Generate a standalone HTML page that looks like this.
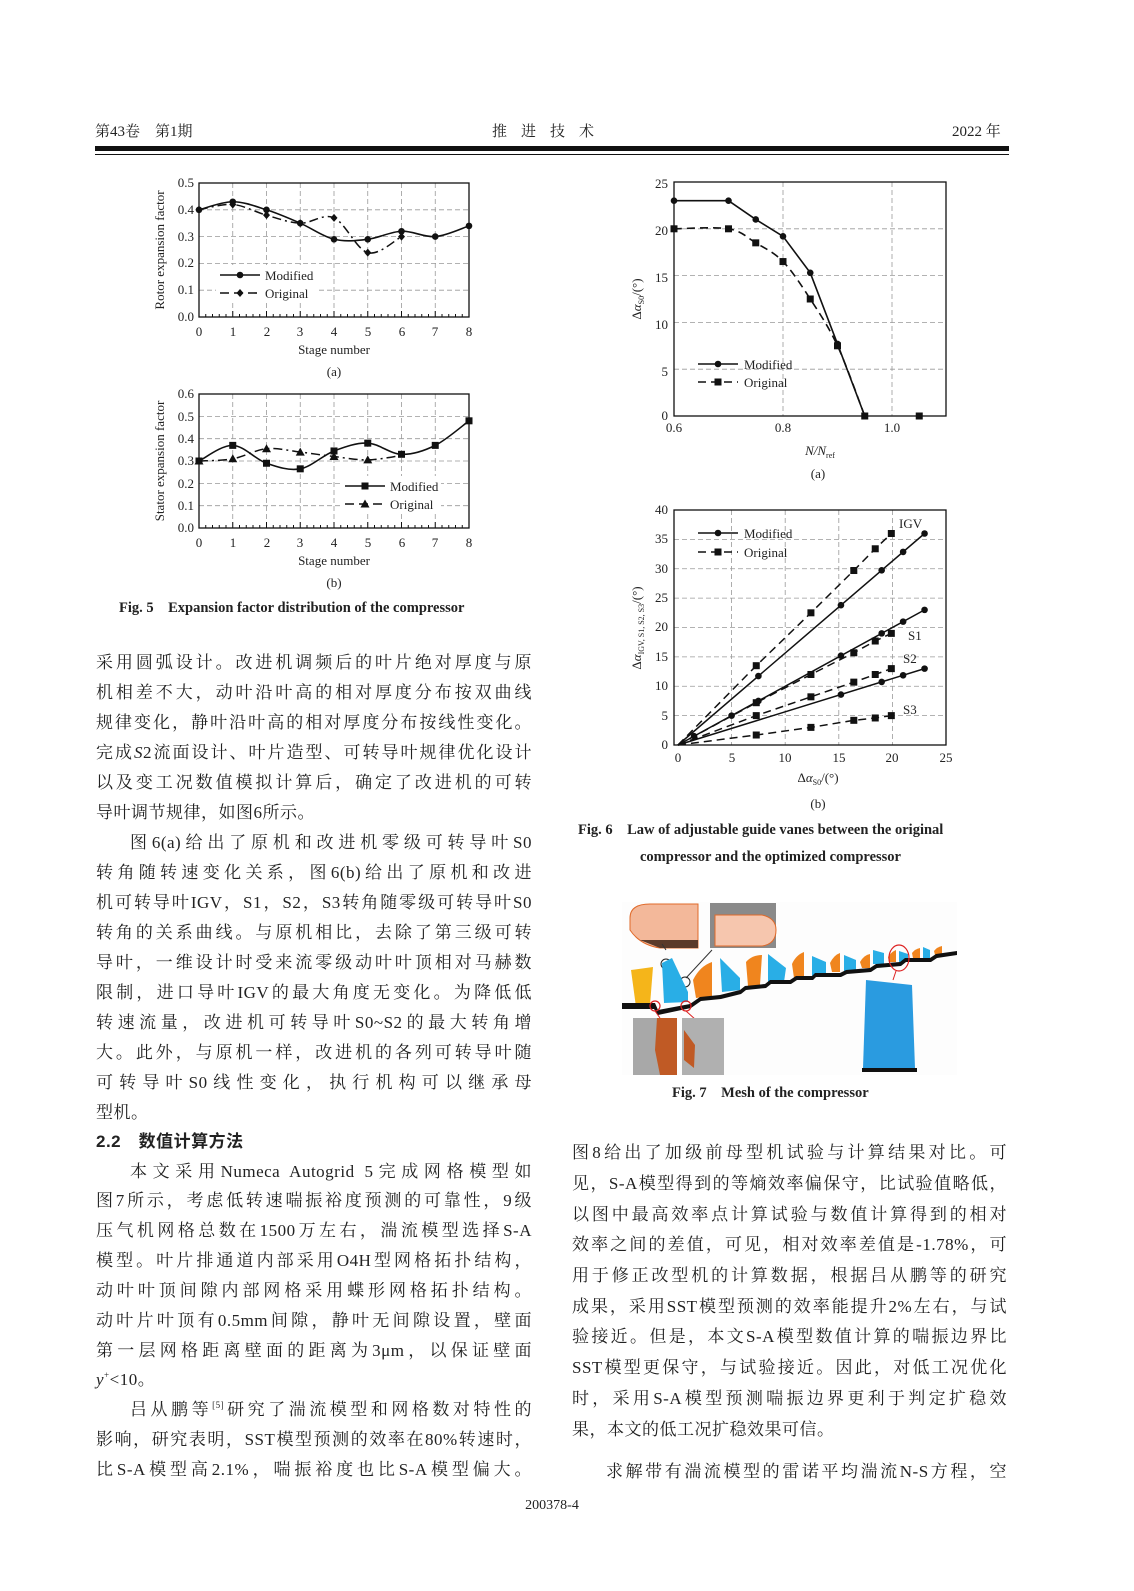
<!DOCTYPE html>
<html><head><meta charset="utf-8">
<style>
html,body{margin:0;padding:0;background:#fff;}
body{width:1134px;height:1591px;position:relative;overflow:hidden;font-family:"Liberation Serif","Noto Serif CJK SC",serif;color:#222;}
.l{position:absolute;height:30px;line-height:30px;font-size:17px;white-space:nowrap;text-align:justify;text-align-last:justify;letter-spacing:0.5px;overflow:visible;}
.l sup{line-height:0;vertical-align:0;position:relative;top:-7px;}
.L{left:96px;width:436px;}
.R{left:572px;width:435px;}
.nl{text-align-last:left;}
.ab{position:absolute;white-space:nowrap;}
svg{position:absolute;left:0;top:0;}
</style></head><body>
<div class="ab" style="left:95px;top:120px;font-size:15px;">第43卷　第1期</div>
<div class="ab" style="left:492px;top:120px;font-size:15px;letter-spacing:14px;">推进技术</div>
<div class="ab" style="left:952px;top:120px;font-size:15px;">2022 年</div>
<div class="ab" style="left:95px;top:146px;width:914px;height:5px;background:#111;"></div>
<div class="ab" style="left:95px;top:154px;width:914px;height:1px;background:#111;"></div>

<svg width="1134" height="1591" viewBox="0 0 1134 1591" font-family="Liberation Serif, serif" id="sv">
<g font-size="13" fill="#222" text-anchor="end">
<text x="194" y="321">0.0</text><text x="194" y="294">0.1</text><text x="194" y="267">0.2</text><text x="194" y="241">0.3</text><text x="194" y="214">0.4</text><text x="194" y="187">0.5</text>
<text x="194" y="532">0.0</text><text x="194" y="510">0.1</text><text x="194" y="488">0.2</text><text x="194" y="465">0.3</text><text x="194" y="443">0.4</text><text x="194" y="421">0.5</text><text x="194" y="398">0.6</text>
</g>
<g font-size="13" fill="#222" text-anchor="middle">
<text x="199" y="336">0</text><text x="233" y="336">1</text><text x="267" y="336">2</text><text x="300" y="336">3</text><text x="334" y="336">4</text><text x="368" y="336">5</text><text x="402" y="336">6</text><text x="435" y="336">7</text><text x="469" y="336">8</text>
<text x="334" y="354">Stage number</text>
<text x="334" y="376">(a)</text>
<text x="199" y="547">0</text><text x="233" y="547">1</text><text x="267" y="547">2</text><text x="300" y="547">3</text><text x="334" y="547">4</text><text x="368" y="547">5</text><text x="402" y="547">6</text><text x="435" y="547">7</text><text x="469" y="547">8</text>
<text x="334" y="565">Stage number</text>
<text x="334" y="587">(b)</text>
<text transform="translate(164,250) rotate(-90)">Rotor expansion factor</text>
<text transform="translate(164,461) rotate(-90)">Stator expansion factor</text>
</g>
<text x="119" y="612" font-size="14.5" font-weight="bold" fill="#222">Fig. 5　Expansion factor distribution of the compressor</text>

<g font-size="13" fill="#222" text-anchor="end">
<text x="668" y="420">0</text><text x="668" y="376">5</text><text x="668" y="329">10</text><text x="668" y="282">15</text><text x="668" y="235">20</text><text x="668" y="188">25</text>
<text x="668" y="749">0</text><text x="668" y="720">5</text><text x="668" y="690">10</text><text x="668" y="661">15</text><text x="668" y="631">20</text><text x="668" y="602">25</text><text x="668" y="573">30</text><text x="668" y="543">35</text><text x="668" y="514">40</text>
</g>
<g font-size="13" fill="#222" text-anchor="middle">
<text x="674" y="432">0.6</text><text x="783" y="432">0.8</text><text x="892" y="432">1.0</text>
<text x="820" y="455" font-style="italic">N/N<tspan font-size="8" dy="3" font-style="normal">ref</tspan></text>
<text x="818" y="478">(a)</text>
<text x="678" y="762">0</text><text x="732" y="762">5</text><text x="785" y="762">10</text><text x="839" y="762">15</text><text x="892" y="762">20</text><text x="946" y="762">25</text>
<text x="818" y="782">Δ<tspan font-style="italic">α</tspan><tspan font-size="8" dy="3">S0</tspan><tspan dy="-3">/(°)</tspan></text>
<text x="818" y="808">(b)</text>
<text transform="translate(641,299) rotate(-90)">Δ<tspan font-style="italic">α</tspan><tspan font-size="8" dy="3">S0</tspan><tspan dy="-3">/(°)</tspan></text>
<text transform="translate(641,628) rotate(-90)">Δ<tspan font-style="italic">α</tspan><tspan font-size="8" dy="3">IGV, S1, S2, S3</tspan><tspan dy="-3">/(°)</tspan></text>
</g>

<g>
<rect x="622" y="902" width="335" height="173" fill="#fdfdfd"/>
<path d="M630,918 Q630,904 650,904 L698,904 L698,948 L660,948 Q640,945 630,930 Z" fill="#f3b89a" stroke="#e06a2a" stroke-width="1"/>
<path d="M640,940 L698,940 L698,948 L660,948 Z" fill="#5a3a2a"/>
<rect x="710" y="903" width="66" height="45" fill="#8a8a8a"/>
<path d="M715,915 L762,915 Q776,918 776,930 Q776,944 762,946 L715,946 Z" fill="#f6c6ae" stroke="#e06a2a"/>
<line x1="666" y1="950" x2="662" y2="944" stroke="#333"/>
<line x1="686" y1="978" x2="712" y2="950" stroke="#333"/>
<circle cx="666" cy="964" r="5" fill="none" stroke="#222"/>
<circle cx="685" cy="982" r="5" fill="none" stroke="#222"/>
<path d="M631,970 L653,967 L650,1005 L636,1007 Z" fill="#f5b51a"/>
<path d="M662,963 L672,958 L688,992 L688,1002 L664,1003 Z" fill="#29aee6"/>
<path d="M693,980 Q700,966 712,962 L712,996 L696,998 Z" fill="#f0851e"/>
<path d="M720,958 L740,978 L740,990 L722,992 Z" fill="#29aee6"/>
<path d="M746,962 Q752,955 762,955 L760,985 L748,986 Z" fill="#f0851e"/>
<path d="M768,954 L786,968 L784,982 L768,982 Z" fill="#29aee6"/>
<path d="M792,964 Q796,955 804,952 L804,978 L794,978 Z" fill="#f0851e"/>
<path d="M812,956 L826,962 L826,976 L812,976 Z" fill="#29aee6"/>
<path d="M830,963 Q834,955 840,953 L840,972 L832,972 Z" fill="#f0851e"/>
<path d="M844,955 L856,960 L856,972 L844,972 Z" fill="#29aee6"/>
<path d="M860,962 Q864,955 870,954 L870,968 L862,968 Z" fill="#f0851e"/>
<path d="M873,950 L884,953 L884,964 L873,964 Z" fill="#29aee6"/>
<path d="M888,957 Q891,952 896,950 L896,962 L889,962 Z" fill="#f0851e"/>
<path d="M899,951 L908,954 L908,962 L899,962 Z" fill="#29aee6"/>
<path d="M912,953 Q915,949 920,948 L920,958 L913,958 Z" fill="#f0851e"/>
<path d="M923,947 L930,950 L930,958 L923,958 Z" fill="#29aee6"/>
<path d="M934,951 Q937,947 942,946 L942,955 L935,955 Z" fill="#f0851e"/>
<path d="M622,1003 L655,1003 L658,1010 L690,1004 L700,997 L720,995 L740,990 L745,986 L765,984 L770,980 L790,980 L796,976 L812,976 L815,973 L840,973 L846,970 L870,968 L876,964 L900,962 L905,958 L930,958 L936,954 L957,951 L957,955 L937,958 L931,962 L906,962 L901,966 L877,968 L871,972 L847,974 L841,977 L816,977 L813,980 L797,980 L791,984 L771,984 L766,988 L746,990 L741,994 L721,999 L701,1001 L691,1008 L658,1015 L654,1009 L622,1009 Z" fill="#111"/>
<circle cx="655" cy="1006" r="5" fill="none" stroke="#d22" stroke-width="1.2"/>
<circle cx="686" cy="1006" r="5" fill="none" stroke="#d22" stroke-width="1.2"/>
<ellipse cx="899" cy="958" rx="10" ry="13" fill="none" stroke="#d22" stroke-width="1.2"/>
<line x1="655" y1="1011" x2="660" y2="1018" stroke="#d22"/><line x1="686" y1="1011" x2="696" y2="1020" stroke="#d22"/>
<line x1="896" y1="971" x2="893" y2="980" stroke="#d22"/>
<rect x="633" y="1018" width="44" height="57" fill="#a8a8a8"/>
<path d="M657,1018 L677,1018 L677,1075 L660,1075 L655,1050 Z" fill="#c05a25"/>
<rect x="682" y="1018" width="42" height="57" fill="#b0b0b0"/>
<path d="M684,1030 L695,1045 L694,1068 L684,1060 Z" fill="#c05a25"/>
<path d="M866,980 L912,985 L915,1068 L863,1068 Z" fill="#2a9be0"/>
<rect x="862" y="1068" width="55" height="4" fill="#111"/>
</g>
<text x="672" y="1097" font-size="14.5" font-weight="bold" fill="#222">Fig. 7　Mesh of the compressor</text>
<text x="552" y="1509" font-size="14" fill="#222" text-anchor="middle">200378-4</text>
</svg>
<svg width="1134" height="1591" viewBox="0 0 1134 1591" font-family="Liberation Serif, serif" style="pointer-events:none">
<g font-size="13" fill="#222">
<text x="265" y="280">Modified</text><text x="265" y="298">Original</text>
<text x="390" y="491">Modified</text><text x="390" y="509">Original</text>
<text x="744" y="369">Modified</text><text x="744" y="387">Original</text>
<text x="744" y="538">Modified</text><text x="744" y="557">Original</text>
<text x="899" y="528">IGV</text><text x="908" y="640">S1</text><text x="903" y="663">S2</text><text x="903" y="714">S3</text>
</g>
<text x="578" y="834" font-size="14.5" font-weight="bold" fill="#222">Fig. 6　Law of adjustable guide vanes between the original</text>
<text x="640" y="861" font-size="14.5" font-weight="bold" fill="#222">compressor and the optimized compressor</text>
</svg>

<div class="l L" style="top:648px">采用圆弧设计。改进机调频后的叶片绝对厚度与原</div>
<div class="l L" style="top:678px">机相差不大，动叶沿叶高的相对厚度分布按双曲线</div>
<div class="l L" style="top:708px">规律变化，静叶沿叶高的相对厚度分布按线性变化。</div>
<div class="l L" style="top:738px">完成<i>S</i>2流面设计、叶片造型、可转导叶规律优化设计</div>
<div class="l L" style="top:768px">以及变工况数值模拟计算后，确定了改进机的可转</div>
<div class="l L nl" style="top:798px">导叶调节规律，如图6所示。</div>
<div class="l L" style="top:828px;padding-left:34px;width:402px">图6(a)给出了原机和改进机零级可转导叶S0</div>
<div class="l L" style="top:858px">转角随转速变化关系，图6(b)给出了原机和改进</div>
<div class="l L" style="top:888px">机可转导叶IGV，S1，S2，S3转角随零级可转导叶S0</div>
<div class="l L" style="top:918px">转角的关系曲线。与原机相比，去除了第三级可转</div>
<div class="l L" style="top:948px">导叶，一维设计时受来流零级动叶叶顶相对马赫数</div>
<div class="l L" style="top:978px">限制，进口导叶IGV的最大角度无变化。为降低低</div>
<div class="l L" style="top:1008px">转速流量，改进机可转导叶S0~S2的最大转角增</div>
<div class="l L" style="top:1038px">大。此外，与原机一样，改进机的各列可转导叶随</div>
<div class="l L" style="top:1068px">可转导叶S0线性变化，执行机构可以继承母</div>
<div class="l L nl" style="top:1098px">型机。</div>
<div class="l L nl" style="top:1127px;font-weight:bold;font-family:'Liberation Sans','Noto Sans CJK SC',sans-serif">2.2　数值计算方法</div>
<div class="l L" style="top:1157px;padding-left:34px;width:402px">本文采用Numeca Autogrid 5完成网格模型如</div>
<div class="l L" style="top:1186px">图7所示，考虑低转速喘振裕度预测的可靠性，9级</div>
<div class="l L" style="top:1216px">压气机网格总数在1500万左右，湍流模型选择S-A</div>
<div class="l L" style="top:1246px">模型。叶片排通道内部采用O4H型网格拓扑结构，</div>
<div class="l L" style="top:1276px">动叶叶顶间隙内部网格采用蝶形网格拓扑结构。</div>
<div class="l L" style="top:1306px">动叶片叶顶有0.5mm间隙，静叶无间隙设置，壁面</div>
<div class="l L" style="top:1336px">第一层网格距离壁面的距离为3μm，以保证壁面</div>
<div class="l L nl" style="top:1365px"><i>y</i><sup style="font-size:9px">+</sup>&lt;10。</div>
<div class="l L" style="top:1395px;padding-left:34px;width:402px">吕从鹏等<sup style="font-size:9px">[5]</sup>研究了湍流模型和网格数对特性的</div>
<div class="l L" style="top:1425px">影响，研究表明，SST模型预测的效率在80%转速时，</div>
<div class="l L" style="top:1455px">比S-A模型高2.1%，喘振裕度也比S-A模型偏大。</div>

<div class="l R" style="top:1138px">图8给出了加级前母型机试验与计算结果对比。可</div>
<div class="l R" style="top:1169px">见，S-A模型得到的等熵效率偏保守，比试验值略低，</div>
<div class="l R" style="top:1200px">以图中最高效率点计算试验与数值计算得到的相对</div>
<div class="l R" style="top:1230px">效率之间的差值，可见，相对效率差值是-1.78%，可</div>
<div class="l R" style="top:1261px">用于修正改型机的计算数据，根据吕从鹏等的研究</div>
<div class="l R" style="top:1292px">成果，采用SST模型预测的效率能提升2%左右，与试</div>
<div class="l R" style="top:1322px">验接近。但是，本文S-A模型数值计算的喘振边界比</div>
<div class="l R" style="top:1353px">SST模型更保守，与试验接近。因此，对低工况优化</div>
<div class="l R" style="top:1384px">时，采用S-A模型预测喘振边界更利于判定扩稳效</div>
<div class="l R nl" style="top:1415px">果，本文的低工况扩稳效果可信。</div>
<div class="l R" style="top:1457px;padding-left:34px;width:401px">求解带有湍流模型的雷诺平均湍流N-S方程，空</div>

<script>
(function(){
var NS="http://www.w3.org/2000/svg",sv=document.getElementById("sv");
function el(t,a){var e=document.createElementNS(NS,t);for(var k in a)e.setAttribute(k,a[k]);sv.appendChild(e);return e;}
function cr(p){var d="M"+p[0][0]+","+p[0][1];for(var i=0;i<p.length-1;i++){var p0=p[i-1]||p[i],p1=p[i],p2=p[i+1],p3=p[i+2]||p2;
d+=" C"+(p1[0]+(p2[0]-p0[0])/6)+","+(p1[1]+(p2[1]-p0[1])/6)+" "+(p2[0]-(p3[0]-p1[0])/6)+","+(p2[1]-(p3[1]-p1[1])/6)+" "+p2[0]+","+p2[1];}return d;}
function pl(p){return "M"+p.map(function(q){return q[0]+","+q[1]}).join(" L");}
function mk(t,x,y){if(t=="c")el("circle",{cx:x,cy:y,r:3.3,fill:"#111"});
else if(t=="s")el("rect",{x:x-3.5,y:y-3.5,width:7,height:7,fill:"#111"});
else if(t=="d")el("path",{d:"M"+x+","+(y-4)+" L"+(x+3.5)+","+y+" L"+x+","+(y+4)+" L"+(x-3.5)+","+y+"Z",fill:"#111"});
else if(t=="t")el("path",{d:"M"+x+","+(y-4.5)+" L"+(x+4.5)+","+(y+3.5)+" L"+(x-4.5)+","+(y+3.5)+"Z",fill:"#111"});}
function frame(x0,y0,x1,y1,gx,gy){
 gx.forEach(function(x){el("line",{x1:x,y1:y0,x2:x,y2:y1,stroke:"#999","stroke-dasharray":"5,3","stroke-width":0.8});});
 gy.forEach(function(y){el("line",{x1:x0,y1:y,x2:x1,y2:y,stroke:"#999","stroke-dasharray":"5,3","stroke-width":0.8});});
 el("rect",{x:x0,y:y0,width:x1-x0,height:y1-y0,fill:"none",stroke:"#111","stroke-width":1.3});}
function line(x0,y0,x1,y1,da){el("line",{x1:x0,y1:y0,x2:x1,y2:y1,stroke:"#111","stroke-width":1.6,"stroke-dasharray":da||"none"});}
var gx=[],i;for(i=1;i<8;i++)gx.push(199+i*33.75);
var gy=[];for(i=1;i<5;i++)gy.push(317-i*26.8);
frame(199,183,469,317,gx,gy);
for(i=0;i<=40;i++){var x=199+i*6.75;el("line",{x1:x,y1:317,x2:x,y2:i%5?314:311,stroke:"#111"});}
var X=function(s){return 199+s*33.75},Ya=function(v){return 317-v*268};
var m=[.40,.43,.40,.35,.29,.29,.32,.30,.34].map(function(v,i){return[X(i),Ya(v)]});
var o=[.40,.42,.38,.35,.37,.24,.30,.30].map(function(v,i){return[X(i),Ya(v)]});
el("path",{d:cr(m),fill:"none",stroke:"#111","stroke-width":1.6});
el("path",{d:cr(o.slice(0,7)),fill:"none",stroke:"#111","stroke-width":1.5,"stroke-dasharray":"9,4,2,4"});
m.forEach(function(p){mk("c",p[0],p[1])});o.slice(0,7).forEach(function(p){mk("d",p[0],p[1])});
el("rect",{x:216,y:265,width:100,height:37,fill:"#fff"});
line(220,275,260,275);mk("c",240,275);line(220,293,260,293,"9,5");mk("d",240,293);
gy=[];for(i=1;i<6;i++)gy.push(528-i*22.33);
frame(199,394,469,528,gx,gy);
for(i=0;i<=40;i++){var x=199+i*6.75;el("line",{x1:x,y1:528,x2:x,y2:i%5?525:522,stroke:"#111"});}
var Yb=function(v){return 528-v*223.3};
m=[.30,.37,.29,.265,.345,.38,.33,.37,.48].map(function(v,i){return[X(i),Yb(v)]});
o=[.30,.31,.355,.34,.32,.305,.325].map(function(v,i){return[X(i),Yb(v)]});
el("path",{d:cr(m),fill:"none",stroke:"#111","stroke-width":1.6});
el("path",{d:cr(o),fill:"none",stroke:"#111","stroke-width":1.5,"stroke-dasharray":"9,4,2,4"});
m.forEach(function(p){mk("s",p[0],p[1])});o.slice(0,6).forEach(function(p){mk("t",p[0],p[1])});
el("rect",{x:341,y:476,width:100,height:37,fill:"#fff"});
line(345,486,385,486);mk("s",365,486);line(345,504,385,504,"9,5");mk("t",365,504);
var XA=function(n){return 674+(n-0.6)*545},YA=function(v){return 416-v*9.36};
gy=[];for(i=1;i<5;i++)gy.push(YA(i*5));
frame(674,182,946,416,[XA(0.8),XA(1.0)],gy);
m=[[.6,23],[.7,23],[.75,21],[.8,19.2],[.85,15.3],[.9,7.7],[.95,0]].map(function(p){return[XA(p[0]),YA(p[1])]});
o=[[.6,20],[.7,20],[.75,18.5],[.8,16.5],[.85,12.5],[.9,7.5],[.95,0]].map(function(p){return[XA(p[0]),YA(p[1])]});
el("path",{d:pl(m),fill:"none",stroke:"#111","stroke-width":1.6});
el("path",{d:cr(o),fill:"none",stroke:"#111","stroke-width":1.6,"stroke-dasharray":"8,5"});
m.forEach(function(p){mk("c",p[0],p[1])});o.forEach(function(p){mk("s",p[0],p[1])});mk("s",XA(1.05),YA(0));
line(698,364,738,364);mk("c",718,364);line(698,382,738,382,"8,5");mk("s",718,382);
var XB=function(v){return 678+v*10.72},YB=function(v){return 745-v*5.875};
gy=[];for(i=1;i<8;i++)gy.push(YB(i*5));
frame(674,510,946,745,[XB(5),XB(10),XB(15),XB(20)],gy);
[[36,[7.5,15.2,19,21,23]],[23,[1.5,5,7.5,15.2,19,21,23]],[13,[15.2,19,21,23]]].forEach(function(s){
 var k=s[0]/23;el("path",{d:pl([[XB(0),YB(0)],[XB(23),YB(s[0])]]),fill:"none",stroke:"#111","stroke-width":1.5});
 s[1].forEach(function(x){mk("c",XB(x),YB(k*x))});});
[[[7.3,13.5],[12.4,22.5],[16.4,29.7],[18.4,33.4],[19.9,36]],
 [[7.3,7.2],[12.4,12],[16.4,15.7],[18.4,17.7],[19.9,19]],
 [[7.3,5],[12.4,8.2],[16.4,10.7],[18.4,12],[19.9,13]],
 [[7.3,1.7],[12.4,3],[16.4,4.2],[18.4,4.6],[19.9,5]]].forEach(function(s){
 var p=[[XB(0),YB(0)]].concat(s.map(function(q){return[XB(q[0]),YB(q[1])]}));
 el("path",{d:pl(p),fill:"none",stroke:"#111","stroke-width":1.5,"stroke-dasharray":"8,5"});
 p.slice(1).forEach(function(q){mk("s",q[0],q[1])});});
line(698,533,738,533);mk("c",718,533);line(698,552,738,552,"8,5");mk("s",718,552);
})();
</script>
</body></html>
